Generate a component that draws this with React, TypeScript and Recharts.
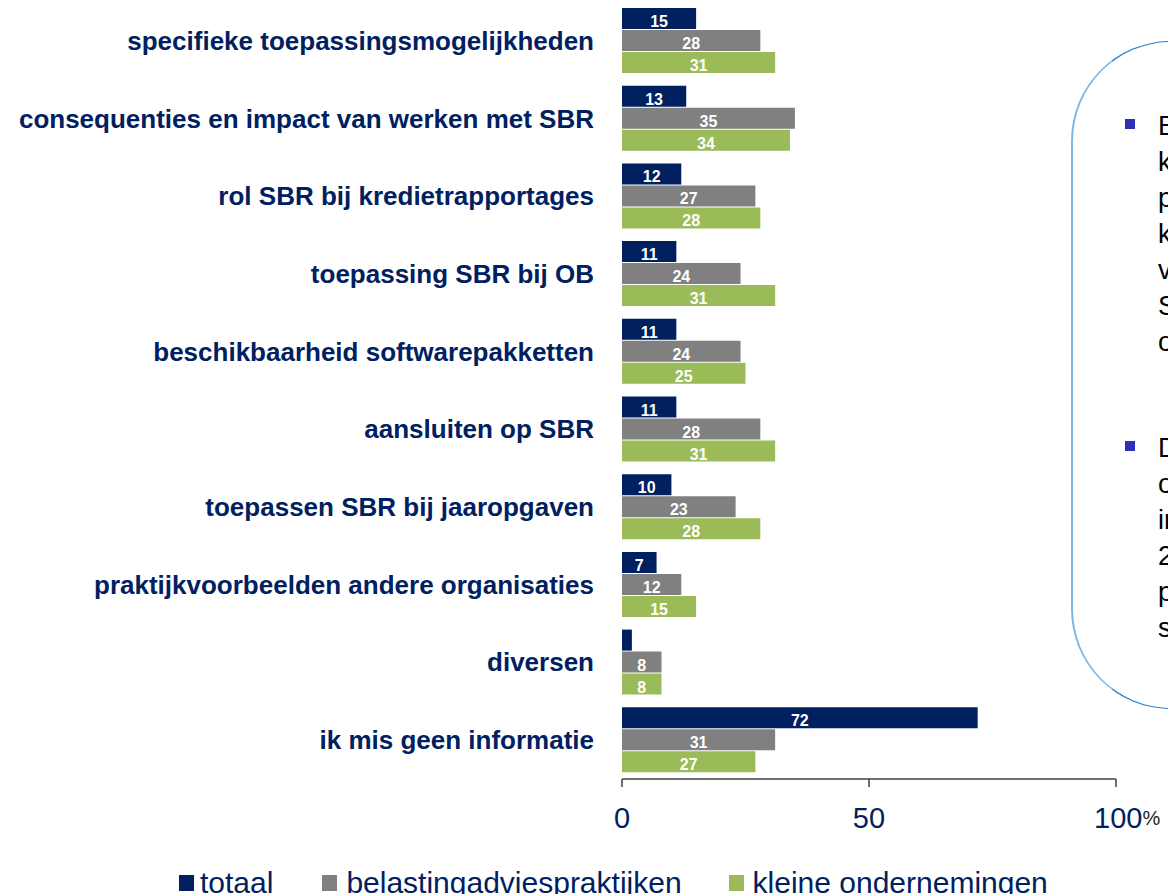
import { BarChart, Bar, XAxis, YAxis, Legend, LabelList } from 'recharts';

const CATEGORIES = [
  'specifieke toepassingsmogelijkheden',
  'consequenties en impact van werken met SBR',
  'rol SBR bij kredietrapportages',
  'toepassing SBR bij OB',
  'beschikbaarheid softwarepakketten',
  'aansluiten op SBR',
  'toepassen SBR bij jaaropgaven',
  'praktijkvoorbeelden andere organisaties',
  'diversen',
  'ik mis geen informatie',
];
const TOTAAL = [15, 13, 12, 11, 11, 11, 10, 7, 2, 72];
const BELASTING = [28, 35, 27, 24, 24, 28, 23, 12, 8, 31];
const KLEIN = [31, 34, 28, 31, 25, 31, 28, 15, 8, 27];
const X_TICKS = [0, 50, 100];

const SERIES = [
  { key: 'totaal', name: 'totaal', color: '#002060' },
  { key: 'belasting', name: 'belastingadviespraktijken', color: '#808080' },
  { key: 'klein', name: 'kleine ondernemingen', color: '#9BBB59' },
];

const NOTE_1 = ['Bijna een derde van de', 'kleine ondernemingen en', 'praktijken zoekt meer', 'kennis over de', 'voordelen en gevolgen van', 'SBR voor de eigen', 'organisatie.'];
const NOTE_2 = ['Driekwart van de', 'ondernemers mist geen', 'informatie; bij de', '25% tot 35% van de', 'praktijken ligt dat', 'significant lager.'];

const data = CATEGORIES.map((name, i) => ({
  name,
  totaal: TOTAAL[i],
  belasting: BELASTING[i],
  klein: KLEIN[i],
}));

const NAVY = '#002060';
const FONT = '"Liberation Sans", Arial, sans-serif';

const CategoryTick = (props: any) => {
  const { x, y, payload } = props;
  return (
    <text x={x} y={y} textAnchor="end" dominantBaseline="central" fill={NAVY}
      fontSize={26} fontWeight="bold" fontFamily={FONT}>
      {payload.value}
    </text>
  );
};

const ValueTick = (props: any) => {
  const { x, y, payload } = props;
  if (payload.value === 100) {
    return (
      <text x={x - 22} y={y + 29} dominantBaseline="central" fill={NAVY} fontSize={29} fontFamily={FONT}>
        100<tspan fontSize={20} fill="#222">%</tspan>
      </text>
    );
  }
  return (
    <text x={x} y={y + 29} textAnchor="middle" dominantBaseline="central" fill={NAVY} fontSize={29} fontFamily={FONT}>
      {payload.value}
    </text>
  );
};

const BarValue = (props: any) => {
  const { x, y, width, height, value } = props;
  if (value < 5) return null;
  return (
    <text x={x + width / 2} y={y + height / 2 + 3} textAnchor="middle" dominantBaseline="central"
      fill="#fff" fontSize={16} fontWeight="bold" fontFamily={FONT}>
      {value}
    </text>
  );
};

const LegendContent = () => (
  <div style={{ display: 'flex', alignItems: 'flex-start', fontFamily: FONT, fontSize: 30, lineHeight: '30px', color: NAVY, whiteSpace: 'nowrap' }}>
    {SERIES.map((s, i) => (
      <div key={s.key} style={{ display: 'flex', alignItems: 'flex-start', marginRight: i === 0 ? 49 : 47 }}>
        <span style={{ width: 15, height: 16, marginTop: 7, background: s.color, display: 'inline-block', marginRight: i === 0 ? 6 : 9 }} />
        <span>{s.name}</span>
      </div>
    ))}
  </div>
);

export default function App() {
  return (
    <div style={{ position: 'absolute', left: 0, top: 0, width: 1168, height: 894, overflow: 'hidden', background: '#fff', fontFamily: FONT }}>
      <BarChart width={1168} height={894} data={data} layout="vertical"
        margin={{ top: 2, right: 52, bottom: 55, left: 0 }} barCategoryGap={6} barGap={1}>
        <XAxis type="number" domain={[0, 100]} ticks={X_TICKS} height={60}
          axisLine={{ stroke: '#404040', strokeWidth: 1.5 }} tickLine={{ stroke: '#404040', strokeWidth: 1.5 }}
          tickSize={8} tick={<ValueTick />} interval={0} />
        <YAxis type="category" dataKey="name" width={622} tickSize={0} tickMargin={28}
          axisLine={false} tickLine={false} tick={<CategoryTick />} interval={0} />
        <Legend layout="horizontal" verticalAlign="middle" align="center" content={<LegendContent />}
          wrapperStyle={{ top: 868, left: 179, width: 'auto' }} />
        {SERIES.map(s => (
          <Bar key={s.key} dataKey={s.key} name={s.name} fill={s.color} isAnimationActive={false}>
            <LabelList dataKey={s.key} content={<BarValue />} />
          </Bar>
        ))}
      </BarChart>
      <div style={{
        position: 'absolute', left: 1071, top: 41, width: 260, height: 668,
        border: '1.5px solid #2a85d0', borderLeft: '2px solid #7fb6df', borderRadius: 100, boxSizing: 'border-box',
      }} />
      <div style={{ position: 'absolute', left: 1124, top: 0, width: 300, fontSize: 27, lineHeight: '36px', color: '#000' }}>
        {[NOTE_1, NOTE_2].map((lines, b) => (
          <div key={b} style={{ position: 'absolute', top: b === 0 ? 108 : 430, left: 0 }}>
            <span style={{ position: 'absolute', left: 1, top: 11, width: 10, height: 10, background: '#2f2fb8' }} />
            {lines.map((l, i) => (
              <div key={i} style={{ paddingLeft: 34, whiteSpace: 'nowrap' }}>{l}</div>
            ))}
          </div>
        ))}
      </div>
    </div>
  );
}
